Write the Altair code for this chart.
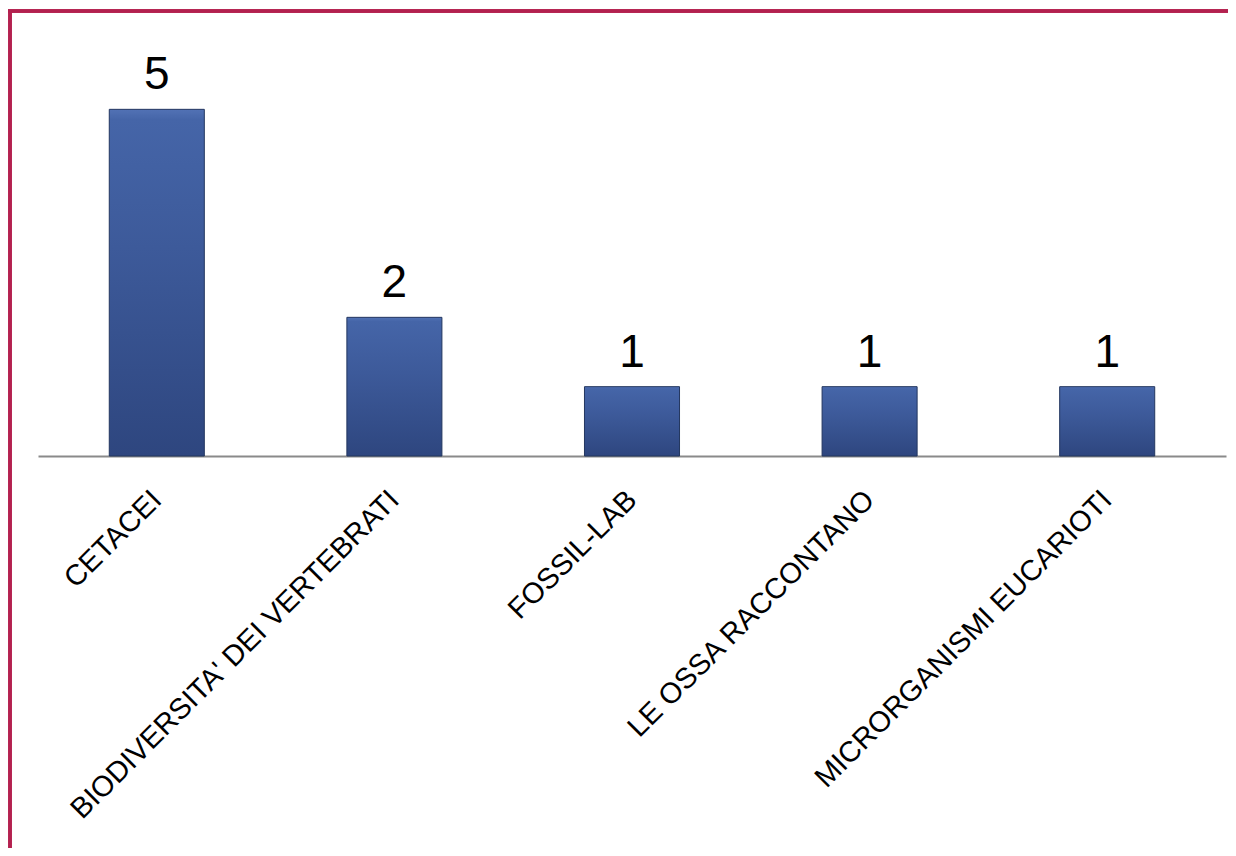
import altair as alt
import pandas as pd

categories = ["CETACEI", "BIODIVERSITA' DEI VERTEBRATI", "FOSSIL-LAB", "LE OSSA RACCONTANO", "MICRORGANISMI EUCARIOTI"]
values = [5, 2, 1, 1, 1]

df = pd.DataFrame({"cat": categories, "val": values})

FONT = "Liberation Sans"

x = alt.X("cat:N", sort=categories, title=None,
          scale=alt.Scale(paddingInner=0.6, paddingOuter=0.3),
          axis=alt.Axis(labelAngle=-45, labelAlign="right", labelBaseline="middle",
                        labelFont=FONT, labelFontSize=29, labelColor="black",
                        labelPadding=39, ticks=False, tickSize=0,
                        domainColor="#8a8a8a", domainWidth=2, labelLimit=0))
y = alt.Y("val:Q", title=None, scale=alt.Scale(domain=[0, 6]), axis=None)

grad = alt.Gradient(gradient="linear", x1=0, x2=0, y1=0, y2=1,
                    stops=[alt.GradientStop(color="#5272b5", offset=0),
                           alt.GradientStop(color="#4565a8", offset=0.03),
                           alt.GradientStop(color="#3d5a9a", offset=0.4),
                           alt.GradientStop(color="#2e467f", offset=1)])

bars = alt.Chart(df).mark_bar(color=grad, stroke="#23365f", strokeWidth=1).encode(x=x, y=y)

labels = alt.Chart(df).mark_text(font=FONT, fontSize=46, color="black",
                                 baseline="alphabetic", dy=-20).encode(
    x=alt.X("cat:N", sort=categories), y="val:Q", text="val:Q")

border_top = alt.Chart(df).mark_rule(color="#b3214f", strokeWidth=3).encode(
    x=alt.value(-30), x2=alt.value(1200), y=alt.value(-29))
border_left = alt.Chart(df).mark_rule(color="#b3214f", strokeWidth=3).encode(
    x=alt.value(-28), y=alt.value(-30), y2=alt.value(820))

chart = alt.layer(border_top, border_left, bars, labels).properties(
    width=1188, height=416,
    padding={"left": 30, "top": 32, "right": 2, "bottom": 392},
    autosize=alt.AutoSizeParams(type="none"),
    background="white",
).configure_view(stroke=None)

chart.save("out.html", embed_options={"renderer": "svg", "actions": False})
